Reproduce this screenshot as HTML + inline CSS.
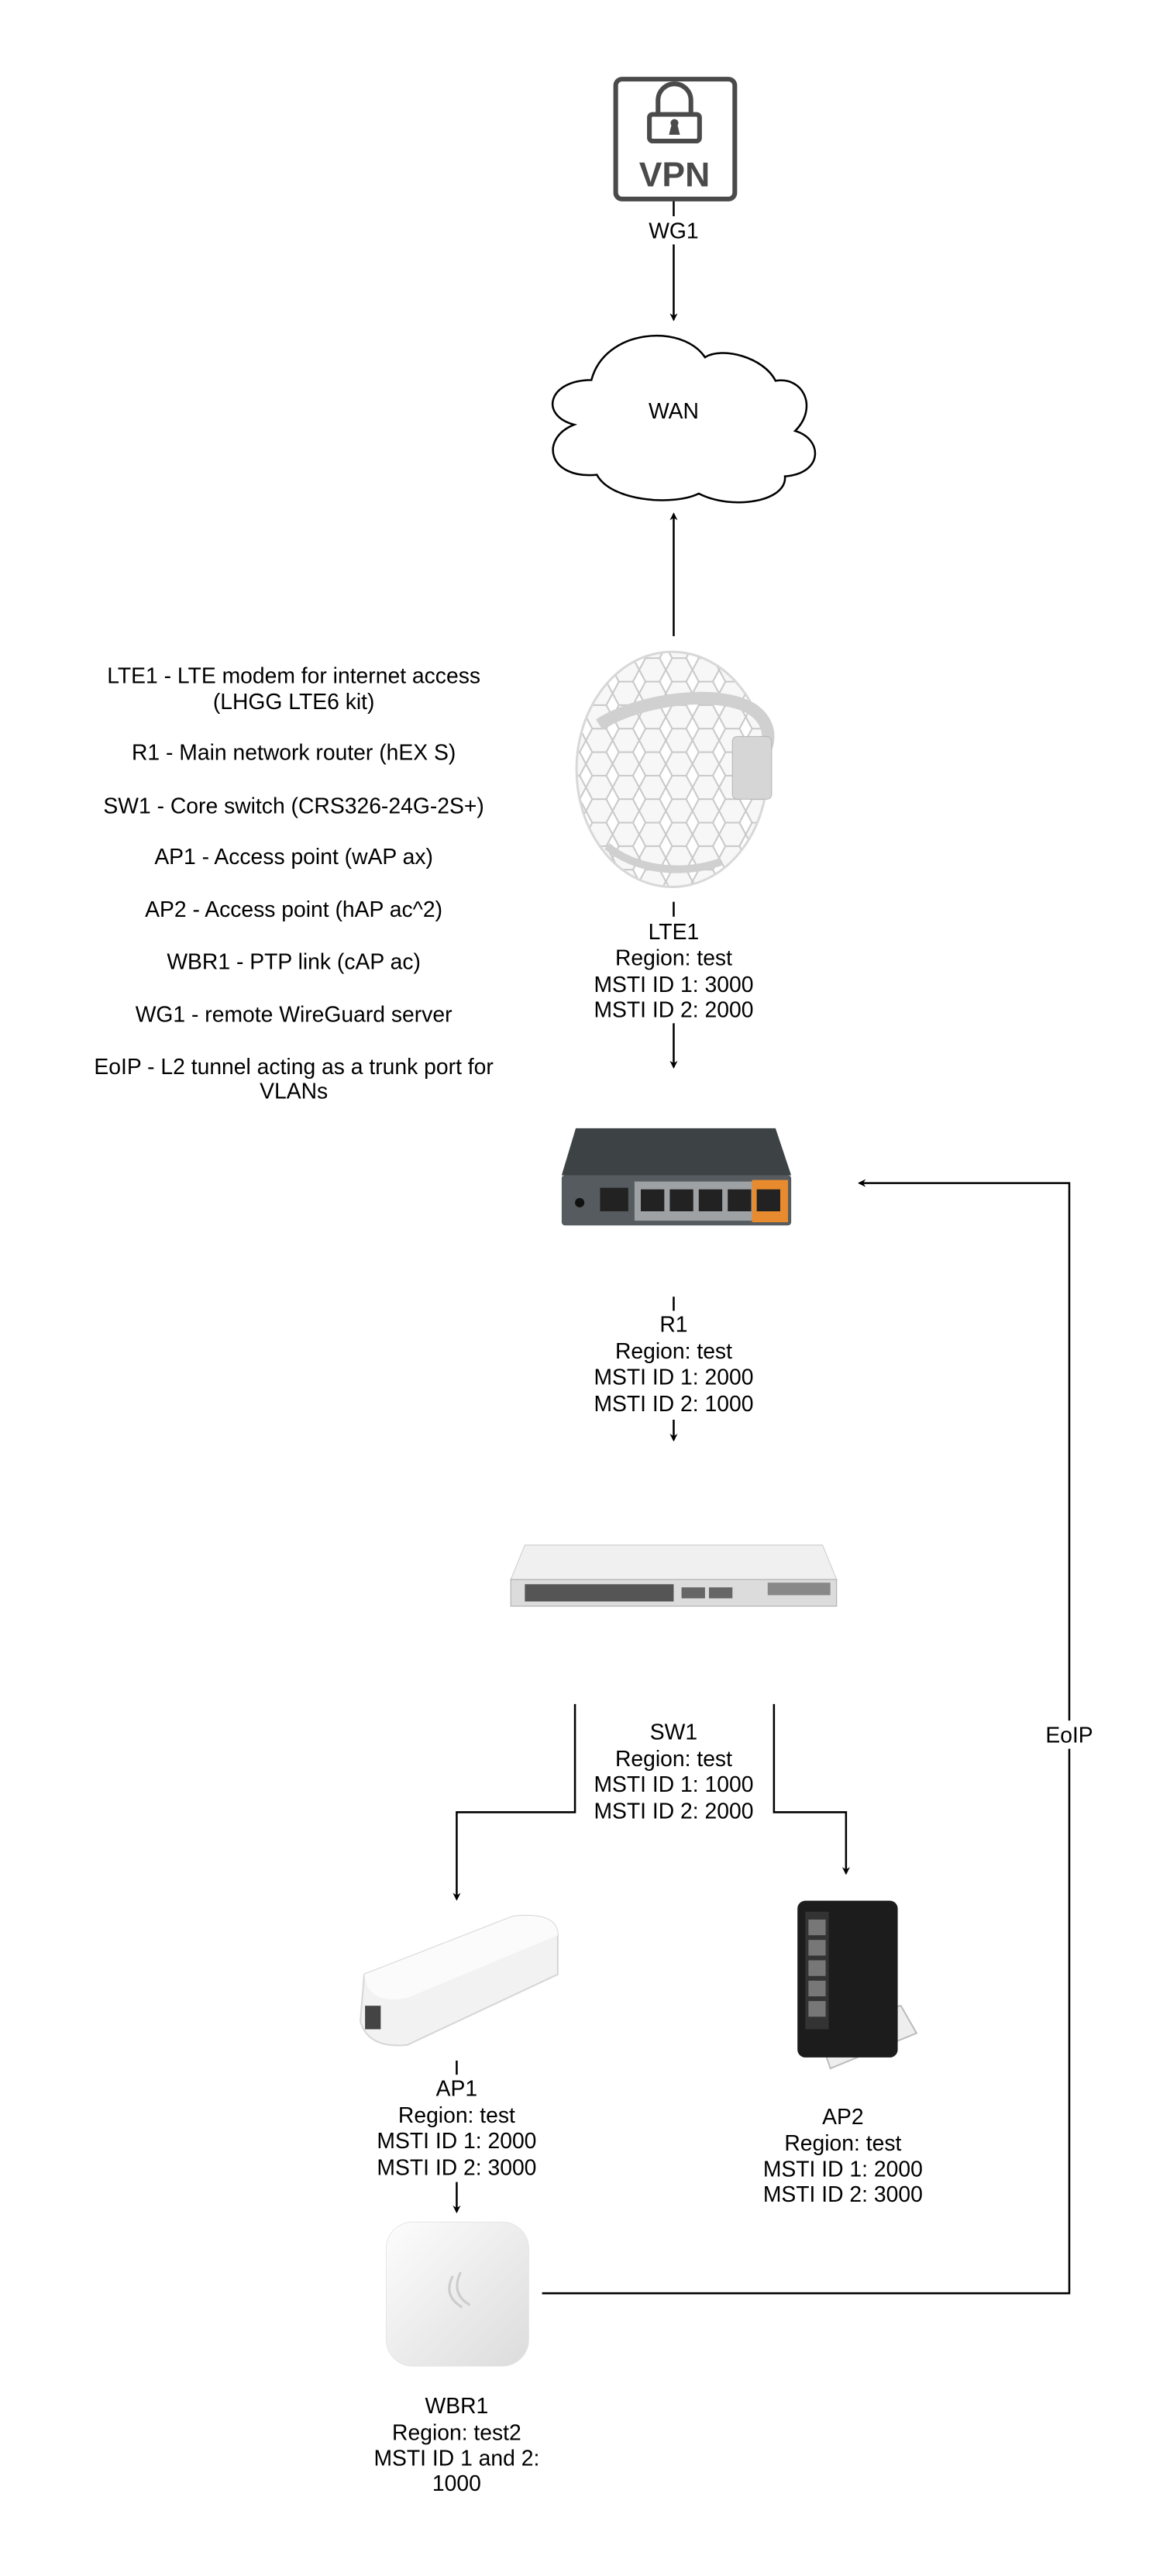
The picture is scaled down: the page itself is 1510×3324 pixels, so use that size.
<!DOCTYPE html>
<html><head><meta charset="utf-8"><style>
html,body{margin:0;padding:0;background:#fff;}
svg{display:block;}
text{font-family:"Liberation Sans",sans-serif;font-size:28px;fill:#000;}
</style></head><body>
<svg width="1510" height="3324" viewBox="0 0 1510 3324" xmlns="http://www.w3.org/2000/svg">
<defs>
<marker id="ah" markerWidth="10" markerHeight="10" refX="8" refY="5" orient="auto" markerUnits="userSpaceOnUse"><path d="M0,0 L10,5 L0,10 L3,5 Z" fill="#000"/></marker>
<pattern id="hex" width="34" height="30" patternUnits="userSpaceOnUse"><path d="M8,0 L26,0 L34,15 L26,30 L8,30 L0,15 Z" fill="#f7f7f7" stroke="#c8c8c8" stroke-width="2"/></pattern>
<linearGradient id="wg" x1="0" y1="0" x2="1" y2="1"><stop offset="0" stop-color="#fdfdfd"/><stop offset="1" stop-color="#dcdcdc"/></linearGradient>
</defs>
<g transform="scale(1.011)">
<g fill="none" stroke="#000" stroke-width="2.5">
<line x1="860" y1="256" x2="860" y2="276"/>
<line x1="860" y1="312" x2="860" y2="408" marker-end="url(#ah)"/>
<line x1="860" y1="812" x2="860" y2="656" marker-end="url(#ah)"/>
<line x1="860" y1="1151" x2="860" y2="1170"/>
<line x1="860" y1="1306" x2="860" y2="1362" marker-end="url(#ah)"/>
<line x1="860" y1="1655" x2="860" y2="1673"/>
<line x1="860" y1="1812" x2="860" y2="1838" marker-end="url(#ah)"/>
<polyline points="734,2175 734,2313 583,2313 583,2424" marker-end="url(#ah)"/>
<polyline points="988,2175 988,2313 1080,2313 1080,2391" marker-end="url(#ah)"/>
<line x1="583" y1="2630" x2="583" y2="2648"/>
<line x1="583" y1="2785" x2="583" y2="2823" marker-end="url(#ah)"/>
<polyline points="692,2927 1365,2927 1365,1510 1097,1510" marker-end="url(#ah)"/>
</g>
<rect x="1330" y="2196" width="70" height="36" fill="#fff"/>
<text x="1365" y="2224" text-anchor="middle">EoIP</text>

<rect x="786" y="101" width="152" height="153" rx="8" fill="#fff" stroke="#4a4a4a" stroke-width="6"/>
<path d="M840,146 v-18 a21,21 0 0 1 42,0 v18" fill="none" stroke="#4a4a4a" stroke-width="6"/>
<rect x="829" y="146" width="64" height="34" rx="4" fill="#fff" stroke="#4a4a4a" stroke-width="6"/>
<circle cx="861" cy="157" r="5" fill="#4a4a4a"/><path d="M857,160 h8 l3,12 h-14 z" fill="#4a4a4a"/>
<text x="861" y="238" text-anchor="middle" style="font-size:44px;font-weight:bold;fill:#4a4a4a">VPN</text>
<rect x="835" y="280" width="50" height="30" fill="#fff"/>
<text x="860" y="304" text-anchor="middle">WG1</text>

<path d="M755,485 C700,485 688,530 733,542 C688,560 700,612 762,606 C780,640 860,646 892,630 C935,652 1005,640 1002,608 C1052,604 1050,560 1015,550 C1045,520 1025,480 990,486 C975,456 922,442 900,456 C870,412 772,420 755,485 Z" fill="#fff" stroke="#000" stroke-width="2.5"/>
<text x="860" y="534" text-anchor="middle">WAN</text>

<g text-anchor="middle">
<text x="375" y="872">LTE1 - LTE modem for internet access</text>
<text x="375" y="905">(LHGG LTE6 kit)</text>
<text x="375" y="970">R1 - Main network router (hEX S)</text>
<text x="375" y="1038">SW1 - Core switch (CRS326-24G-2S+)</text>
<text x="375" y="1103">AP1 - Access point (wAP ax)</text>
<text x="375" y="1170">AP2 - Access point (hAP ac^2)</text>
<text x="375" y="1237">WBR1 - PTP link (cAP ac)</text>
<text x="375" y="1304">WG1 - remote WireGuard server</text>
<text x="375" y="1371">EoIP - L2 tunnel acting as a trunk port for</text>
<text x="375" y="1402">VLANs</text>
</g>

<ellipse cx="858" cy="982" rx="122" ry="150" fill="url(#hex)" stroke="#d8d8d8" stroke-width="3"/>
<path d="M765,925 C820,890 920,880 960,905 C990,925 985,960 960,975" fill="none" stroke="#d0d0d0" stroke-width="16"/>
<rect x="935" y="940" width="50" height="80" rx="6" fill="#d6d6d6" stroke="#b4b4b4"/>
<path d="M775,1080 C810,1110 870,1118 920,1100" fill="none" stroke="#d0d0d0" stroke-width="10"/>

<g text-anchor="middle">
<text x="860" y="1199">LTE1</text><text x="860" y="1232">Region: test</text><text x="860" y="1266">MSTI ID 1: 3000</text><text x="860" y="1298">MSTI ID 2: 2000</text>
</g>

<path d="M735,1440 L990,1440 L1010,1500 L717,1500 Z" fill="#3d4245"/>
<rect x="717" y="1500" width="293" height="64" rx="4" fill="#555b5e"/>
<rect x="810" y="1508" width="190" height="50" fill="#9ea2a4"/>
<rect x="960" y="1506" width="46" height="54" fill="#e88a2e"/>
<g fill="#222"><rect x="818" y="1518" width="30" height="28"/><rect x="855" y="1518" width="30" height="28"/><rect x="892" y="1518" width="30" height="28"/><rect x="929" y="1518" width="30" height="28"/><rect x="966" y="1518" width="30" height="28"/></g>
<rect x="766" y="1516" width="36" height="30" fill="#222"/><circle cx="740" cy="1535" r="6" fill="#111"/>

<g text-anchor="middle">
<text x="860" y="1700">R1</text><text x="860" y="1734">Region: test</text><text x="860" y="1767">MSTI ID 1: 2000</text><text x="860" y="1801">MSTI ID 2: 1000</text>
</g>

<path d="M670,1972 L1050,1972 L1068,2016 L652,2016 Z" fill="#f0f0f0" stroke="#ccc"/>
<rect x="652" y="2016" width="416" height="34" fill="#dcdcdc" stroke="#aaa"/>
<rect x="670" y="2022" width="190" height="22" fill="#555"/>
<rect x="870" y="2026" width="30" height="14" fill="#666"/><rect x="905" y="2026" width="30" height="14" fill="#666"/>
<rect x="980" y="2020" width="80" height="16" fill="#888"/>

<g text-anchor="middle">
<text x="860" y="2220">SW1</text><text x="860" y="2254">Region: test</text><text x="860" y="2287">MSTI ID 1: 1000</text><text x="860" y="2321">MSTI ID 2: 2000</text>
</g>

<path d="M465,2520 L655,2446 Q712,2440 712,2470 L712,2520 L520,2610 Q470,2615 460,2580 Z" fill="#f2f2f2" stroke="#d6d6d6" stroke-width="2"/>
<path d="M465,2520 L655,2446 Q712,2440 712,2470 L520,2550 Q470,2560 465,2520 Z" fill="#fbfbfb"/>
<rect x="466" y="2560" width="20" height="30" fill="#444"/>

<g text-anchor="middle">
<text x="583" y="2675">AP1</text><text x="583" y="2709">Region: test</text><text x="583" y="2742">MSTI ID 1: 2000</text><text x="583" y="2776">MSTI ID 2: 3000</text>
</g>

<path d="M1040,2580 L1150,2560 L1170,2595 L1060,2640 Z" fill="#eee" stroke="#bbb" stroke-width="2"/>
<rect x="1018" y="2426" width="128" height="200" rx="10" fill="#1c1c1c"/>
<rect x="1028" y="2440" width="30" height="150" fill="#333"/>
<g fill="#777"><rect x="1032" y="2450" width="22" height="20"/><rect x="1032" y="2476" width="22" height="20"/><rect x="1032" y="2502" width="22" height="20"/><rect x="1032" y="2528" width="22" height="20"/><rect x="1032" y="2554" width="22" height="20"/></g>

<g text-anchor="middle">
<text x="1076" y="2711">AP2</text><text x="1076" y="2745">Region: test</text><text x="1076" y="2778">MSTI ID 1: 2000</text><text x="1076" y="2810">MSTI ID 2: 3000</text>
</g>

<rect x="493" y="2836" width="182" height="184" rx="34" fill="url(#wg)" stroke="#e6e6e6"/>
<path d="M578,2905 Q565,2930 590,2945" fill="none" stroke="#ccc" stroke-width="3"/>
<path d="M588,2900 Q575,2928 600,2942" fill="none" stroke="#ccc" stroke-width="3"/>

<g text-anchor="middle">
<text x="583" y="3080">WBR1</text><text x="583" y="3114">Region: test2</text><text x="583" y="3147">MSTI ID 1 and 2:</text><text x="583" y="3179">1000</text>
</g>
</g>
</svg>
</body></html>
